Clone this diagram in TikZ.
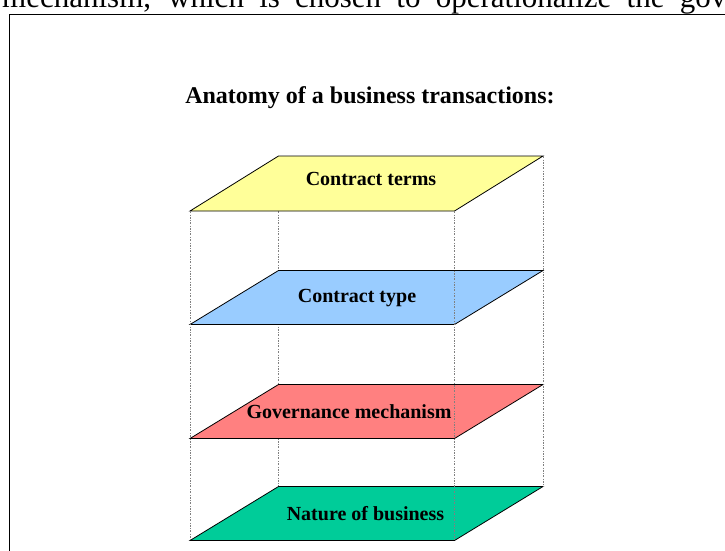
\documentclass[tikz,border=0pt]{standalone}
\usepackage{fontspec}
\setmainfont{Liberation Serif}
\definecolor{layeryellow}{RGB}{255,255,153}
\definecolor{layerblue}{RGB}{153,204,255}
\definecolor{layerred}{RGB}{255,128,128}
\definecolor{layergreen}{RGB}{0,204,153}
\begin{document}
\begin{tikzpicture}[x=1pt,y=-1pt,
  layer/.style={draw=black,line width=0.8pt,line join=miter},
  guide/.style={draw=gray,line width=0.6pt,dash pattern=on 2pt off 1.5pt on 0.6pt off 1.5pt},
  layerlabel/.style={font=\fontsize{20}{22}\selectfont\bfseries,inner sep=0pt},
  frame/.style={draw=black,line width=1.6pt}]
\useasboundingbox (0,0) rectangle (725,550);
% partial running text above the figure
\node[anchor=base west,inner sep=0pt,font=\fontsize{31}{33}\selectfont] (runtext) at (2,7)
  {\makebox[724pt][s]{mechanism, which is chosen to operationalize the gov}};
% frame
\draw[frame] (9.5,14.5) rectangle (740,565);
% title
\node[font=\fontsize{24}{26}\selectfont\bfseries,inner sep=0pt] (title) at (370,98) {Anatomy of a business transactions:};
% corner coordinates
\foreach \n/\t/\b in {1/156/211,2/270.5/324.5,3/384.5/438.5,4/486.5/540.5}{
  \coordinate (TL\n) at (278.5,\t);
  \coordinate (TR\n) at (543,\t);
  \coordinate (BR\n) at (454.5,\b);
  \coordinate (BL\n) at (190,\b);
}
% hidden back guide
\draw[guide] (BL1 -| TL1) -- (TL4);
% layers
\path[layer,fill=layeryellow] (TL1) -- (TR1) -- (BR1) -- (BL1) -- cycle;
\path[layer,fill=layerblue]   (TL2) -- (TR2) -- (BR2) -- (BL2) -- cycle;
\path[layer,fill=layerred]    (TL3) -- (TR3) -- (BR3) -- (BL3) -- cycle;
\path[layer,fill=layergreen]  (TL4) -- (TR4) -- (BR4) -- (BL4) -- cycle;
% visible guides
\draw[guide] (BL1) -- (BL4);
\draw[guide] (TR1) -- (TR4);
\draw[guide] (BR1) -- (BR4);
% labels
\node[layerlabel] (terms) at (371,179) {Contract terms};
\node[layerlabel] (ctype) at (357,298) {Contract type};
\node[layerlabel] (gov) at (349,412) {Governance mechanism};
\node[layerlabel] (nature) at (365.5,514) {Nature of business};
\end{tikzpicture}
\end{document}
